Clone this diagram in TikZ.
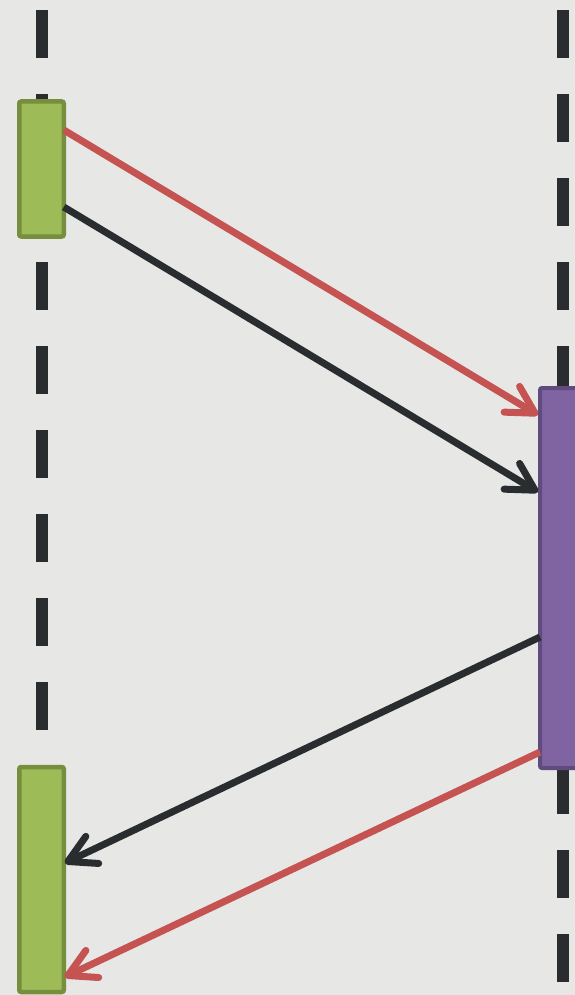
\documentclass[tikz,border=0pt]{standalone}
\usetikzlibrary{arrows.meta}
\definecolor{bg}{HTML}{E7E7E5}
\definecolor{life}{HTML}{2A2D30}
\definecolor{gfill}{HTML}{9DBB57}
\definecolor{gline}{HTML}{768E3E}
\definecolor{pfill}{HTML}{8064A2}
\definecolor{pline}{HTML}{5F4B7E}
\definecolor{redc}{HTML}{C55352}
\definecolor{blk}{HTML}{2A2D30}
\tikzset{
  lifeline/.style={life, line width=12pt, dash pattern=on 48pt off 36pt},
  actbox/.style={draw=gline, fill=gfill, line width=4.5pt, rounded corners=2pt, inner sep=0pt, outer sep=0pt, minimum width=44.5pt},
  pbox/.style={draw=pline, fill=pfill, line width=4pt, rounded corners=2pt, inner sep=0pt, outer sep=0pt, minimum width=60pt, minimum height=380pt},
  msg/.style={line width=7pt, -{Straight Barb[length=27pt, width=30pt, line cap=round, line join=round]}},
}
\begin{document}
\begin{tikzpicture}[x=1pt, y=-1pt]
\fill[bg] (0,0) rectangle (575,995);
\useasboundingbox (0,0) rectangle (575,995);
\clip (0,0) rectangle (575,995);
\coordinate (lt) at (41.5,10);
\coordinate (lb) at (41.5,1000);
\coordinate (rt) at (563,10);
\coordinate (rb) at (563,1000);
\draw[lifeline] (lt) -- (lb);
\draw[lifeline] (rt) -- (rb);
\node[actbox, minimum height=135pt] (g1) at (41.5,169) {};
\node[actbox, minimum height=225pt] (g2) at (41.5,879.5) {};
\node[pbox] (p) at (570,578) {};
\coordinate (s1) at ([yshift=-28.5pt]g1.north east);
\coordinate (s2) at ([yshift=-105.5pt]g1.north east);
\coordinate (e1) at ([xshift=-2pt,yshift=-27pt]p.north west);
\coordinate (e2) at ([xshift=-2pt,yshift=-104pt]p.north west);
\coordinate (s3) at ([yshift=-249pt]p.north west);
\coordinate (s4) at ([yshift=-364pt]p.north west);
\coordinate (e3) at ([xshift=1pt,yshift=-96pt]g2.north east);
\coordinate (e4) at ([xshift=1pt,yshift=-210pt]g2.north east);
\draw[msg, redc] (s1) -- (e1);
\draw[msg, blk] (s2) -- (e2);
\draw[msg, blk] (s3) -- (e3);
\draw[msg, redc] (s4) -- (e4);
\end{tikzpicture}
\end{document}
